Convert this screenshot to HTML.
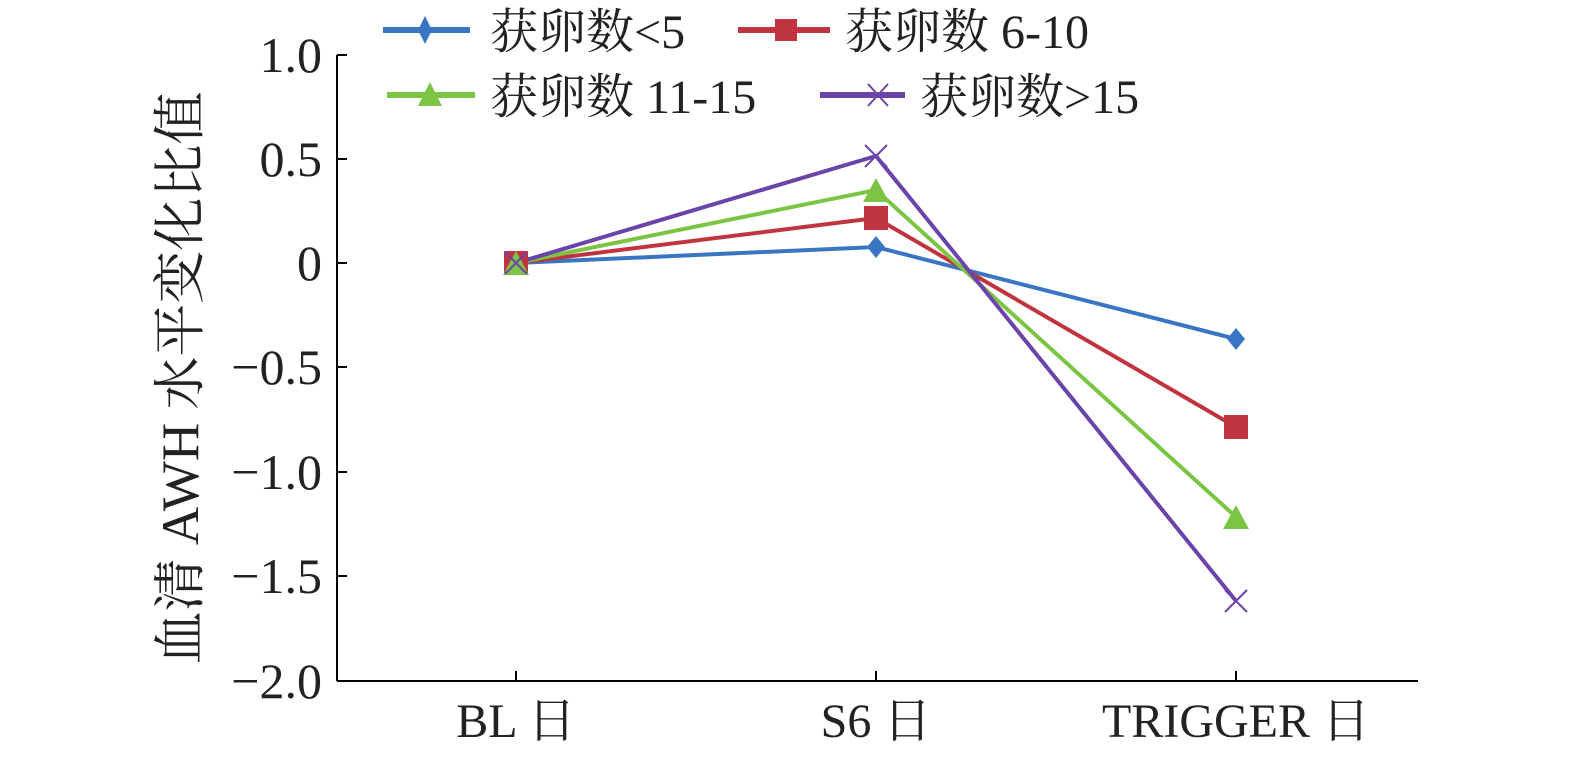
<!DOCTYPE html>
<html><head><meta charset="utf-8"><style>html,body{margin:0;padding:0;background:#fff}</style></head>
<body>
<svg width="1575" height="756" xmlns="http://www.w3.org/2000/svg" font-family="Liberation Serif, Noto Serif CJK SC, serif" fill="#222">
<g stroke="#000" stroke-width="2" fill="none">
<line x1="337" y1="55" x2="337" y2="681"/>
<line x1="337" y1="681" x2="1418" y2="681"/>
<line x1="337" y1="55" x2="347" y2="55"/>
<line x1="337" y1="159" x2="347" y2="159"/>
<line x1="337" y1="263" x2="347" y2="263"/>
<line x1="337" y1="367" x2="347" y2="367"/>
<line x1="337" y1="472" x2="347" y2="472"/>
<line x1="337" y1="576" x2="347" y2="576"/>
<line x1="516" y1="681" x2="516" y2="671"/>
<line x1="876" y1="681" x2="876" y2="671"/>
<line x1="1236" y1="681" x2="1236" y2="671"/>
</g>
<g font-size="50" text-anchor="end">
<text x="322" y="72">1.0</text>
<text x="322" y="176">0.5</text>
<text x="322" y="280">0</text>
<text x="322" y="384">−0.5</text>
<text x="322" y="489">−1.0</text>
<text x="322" y="593">−1.5</text>
<text x="322" y="698">−2.0</text>
</g>
<g font-size="48" text-anchor="middle">
<text x="516" y="737">BL 日</text>
<text x="876" y="737">S6 日</text>
<text x="1236" y="737">TRIGGER 日</text>
</g>
<text font-size="53" transform="translate(198,378) rotate(-90)" text-anchor="middle">血清 AWH 水平变化比值</text>
<g fill="none" stroke-width="4">
<polyline points="516,263 876,247 1236,339" stroke="#3a75c4"/>
<polyline points="516,263 876,218 1236,427" stroke="#c0343f"/>
<polyline points="516,263 876,190 1236,517" stroke="#7cc444"/>
<polyline points="516,263 876,156 1236,601" stroke="#6a44a8"/>
</g>
<g fill="#3a75c4"><polygon points="516,252 525,263 516,274 507,263"/><polygon points="876,236 885,247 876,258 867,247"/><polygon points="1236,328 1245,339 1236,350 1227,339"/></g>
<g fill="#c0343f"><rect x="504" y="251" width="24" height="24"/><rect x="864" y="206" width="24" height="24"/><rect x="1224" y="415" width="24" height="24"/></g>
<g fill="#7cc444"><polygon points="516,251 529,275 503,275"/><polygon points="876,178 889,202 863,202"/><polygon points="1236,505 1249,529 1223,529"/></g>
<g stroke="#6a44a8" stroke-width="2"><path d="M505 252L527 274M527 252L505 274M865 145L887 167M887 145L865 167M1225 590L1247 612M1247 590L1225 612"/></g>
<g stroke-width="6">
<line x1="383" y1="30" x2="470" y2="30" stroke="#3a75c4"/>
<line x1="738" y1="30" x2="830" y2="30" stroke="#c0343f"/>
<line x1="387" y1="95" x2="475" y2="95" stroke="#7cc444"/>
<line x1="820" y1="95" x2="905" y2="95" stroke="#6a44a8"/>
</g>
<polygon points="425,16 432,30 425,44 418,30" fill="#3a75c4"/>
<rect x="775" y="19" width="22" height="22" fill="#c0343f"/>
<polygon points="430,82 442,106 418,106" fill="#7cc444"/>
<path d="M868 84L888 106M888 84L868 106" stroke="#6a44a8" stroke-width="2"/>
<g font-size="48">
<text x="490" y="48">获卵数&lt;5</text>
<text x="845" y="48">获卵数 6-10</text>
<text x="490" y="113">获卵数 11-15</text>
<text x="920" y="113">获卵数&gt;15</text>
</g>
</svg>
</body></html>
